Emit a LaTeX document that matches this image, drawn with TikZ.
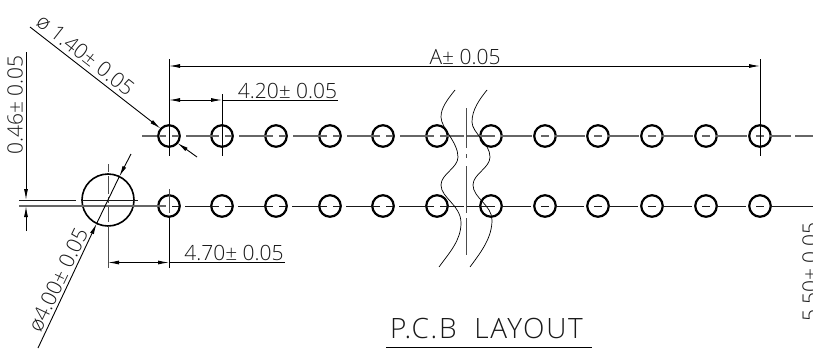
\documentclass[tikz,border=0pt]{standalone}
\usepackage{fontspec}
\setmainfont{Open Sans Light}
\usetikzlibrary{arrows.meta,calc}
\tikzset{
  hole/.style={circle,draw=black,line width=2.2pt,minimum size=21.5pt,inner sep=0pt},
  bighole/.style={circle,draw=black,line width=1.6pt,minimum size=52pt,inner sep=0pt},
  topaxis/.style={draw=black!60,line width=1.2pt},
  botaxis/.style={draw=black!90,line width=1pt},
  dimline/.style={draw=black,line width=0.9pt},
  dimarrow/.style={dimline,-{Latex[length=11pt,width=4pt]}},
  dimboth/.style={dimline,{Latex[length=11pt,width=4pt]}-{Latex[length=11pt,width=4pt]}},
  axisv/.style={draw=black!70,line width=1pt},
  wavy/.style={draw=black,line width=0.7pt},
  dimtext/.style={inner sep=0pt,font=\fontsize{21}{21}\selectfont,text=black!90},
  titletext/.style={inner sep=0pt,font=\fontsize{28}{28}\selectfont\addfontfeature{LetterSpace=6},text=black!90},
}
\begin{document}
\begin{tikzpicture}[x=1pt,y=-1pt]
\useasboundingbox (0,0) rectangle (813,348);
\clip (0,0) rectangle (813,348);
% holes
\foreach \x [count=\i] in {169,222,276,330,383,437,491,545,598,652,706,760}{
  \node[hole] (t\i) at (\x,136) {};
  \node[hole] (b\i) at (\x,206) {};
}
% centre lines, left half: the gap follows a hole
\foreach \i/\j in {1/2,2/3,3/4,4/5,5/6}{
  \draw[topaxis] ([xshift=3pt]t\i.center) -- ([xshift=10pt]t\i.center);
  \draw[topaxis] ([xshift=17pt]t\i.center) -- ([xshift=-3pt]t\j.center);
  \draw[botaxis] ([xshift=3pt]b\i.center) -- ([xshift=10pt]b\i.center);
  \draw[botaxis] ([xshift=16pt]b\i.center) -- ([xshift=-3pt]b\j.center);
}
\draw[topaxis] ([xshift=3pt]t6.center) -- ([xshift=27pt]t6.center);
\draw[topaxis] ([xshift=30pt]t6.center) -- ([xshift=-4pt]t7.center);
\draw[botaxis] ([xshift=3pt]b6.center) -- ([xshift=27pt]b6.center);
\draw[botaxis] ([xshift=30pt]b6.center) -- ([xshift=-4pt]b7.center);
% centre lines, right half: the gap comes before a hole
\foreach \i/\j in {7/8,8/9,9/10,10/11,11/12}{
  \draw[topaxis] ([xshift=-4pt]t\i.center) -- ([xshift=4pt]t\i.center);
  \draw[topaxis] ([xshift=10pt]t\i.center) -- ([xshift=-13pt]t\j.center);
  \draw[botaxis] ([xshift=-4pt]b\i.center) -- ([xshift=4pt]b\i.center);
  \draw[botaxis] ([xshift=10pt]b\i.center) -- ([xshift=-14pt]b\j.center);
}
\draw[topaxis] ([xshift=-4pt]t12.center) -- ([xshift=4pt]t12.center);
\draw[botaxis] ([xshift=-4pt]b12.center) -- ([xshift=4pt]b12.center);
% end stubs
\coordinate (tl) at (142,136);
\coordinate (tr1) at (791,136);
\coordinate (tr2) at (795,136);
\coordinate (trend) at (813,136);
\coordinate (brend) at (813,206);
\coordinate (tl2) at (160,136);
\draw[topaxis] (tl) -- (157,136);
\draw[topaxis] (tl2) -- ([xshift=-3pt]t1.center);
\draw[topaxis] ([xshift=10pt]t12.center) -- (tr1);
\draw[topaxis] (tr2) -- (trend);
\draw[botaxis] ([xshift=10pt]b12.center) -- (brend);
% vertical hole marks
\foreach \i in {1,2,12}{
  \draw[axisv] ([yshift=-17pt]t\i.center) -- ([yshift=-13pt]t\i.center);
  \draw[axisv] ([yshift=-7pt]t\i.center) -- ([yshift=14pt]t\i.center);
}
% large hole
\node[bighole] (big) at (108,200) {};
\coordinate (rowa) at (19,200);
\coordinate (rowb) at (19,206);
\draw[botaxis] (rowa) -- (76,200);
\draw[botaxis] (82,200) -- (big.center);
\draw[botaxis] (big.center) -- (138,200);
\draw[topaxis] (rowb) -- ([xshift=-3pt]b1.center);
\draw[axisv] (108,164) -- (108,172);
\draw[axisv] (108,176) -- (108,194);
\draw[axisv] (108,197) -- (108,203);
\draw[axisv] (108,207) -- (108,222);
\draw[axisv] (108,226) -- (108,268);
% dimension A
\coordinate (Aa) at (169,59);
\coordinate (Ab) at (760,59);
\coordinate (Ac) at (169,66);
\coordinate (Ad) at (760,66);
\draw[dimline] (Aa) -- ([yshift=-20pt]t1.center);
\draw[dimline] (Ab) -- ([yshift=-20pt]t12.center);
\draw[dimboth] (Ac) -- (Ad);
\node[dimtext] (lblA) at (465,56.5) {A± 0.05};
% dimension 4.20
\coordinate (Ba) at (169,100);
\coordinate (Bb) at (222,100);
\coordinate (Bc) at (338,100);
\coordinate (Bd) at (222,94);
\draw[dimboth] (Ba) -- (Bb);
\draw[dimline] (Bb) -- (Bc);
\draw[dimline] (Bd) -- ([yshift=-20pt]t2.center);
\node[dimtext] (lblB) at (287.5,91) {4.20± 0.05};
% dimension 4.70
\coordinate (Ca) at (108,262.5);
\coordinate (Cb) at (169,262.5);
\coordinate (Cc) at (285,262.5);
\coordinate (Cd) at (169,268);
\coordinate (Ce) at (169,189);
\draw[dimboth] (Ca) -- (Cb);
\draw[dimline] (Cb) -- (Cc);
\draw[axisv] (Ce) -- (169,213);
\draw[dimline] (169,216) -- (Cd);
\node[dimtext] (lblC) at (234,253) {4.70± 0.05};
% dimension 0.46
\coordinate (Da) at (26,52);
\coordinate (Db) at (26,200);
\coordinate (Dc) at (26,231);
\coordinate (Dd) at (26,206);
\draw[dimarrow] (Da) -- (Db);
\draw[dimarrow] (Dc) -- (Dd);
\node[dimtext,rotate=90] (lblD) at (15,105) {0.46± 0.05};
% dimension phi 1.40
\coordinate (Ea) at (30,27);
\coordinate (Eb) at (160.5,128.5);
\coordinate (Ec) at (197,157);
\coordinate (Ed) at (177.5,143);
\draw[dimarrow] (Ea) -- (Eb);
\draw[dimarrow] (Ec) -- (Ed);
\node[dimtext,rotate=-38] (lblE) at (85.5,55) {ø 1.40± 0.05};
% dimension phi 4.00
\coordinate (Fa) at (38,348);
\coordinate (Fb) at (96.7,223.4);
\coordinate (Fc) at (131,154);
\coordinate (Fd) at (119.3,176.6);
\draw[dimarrow] (Fa) -- (Fb);
\draw[dimarrow] (Fc) -- (Fd);
\draw[dimline] (Fd) -- (big.center);
\draw[dimline] (big.center) -- (Fb);
\node[dimtext,rotate=64.4] (lblF) at (58,280) {ø4.00± 0.05};
% dimension 5.50 (cut by the edge)
\node[dimtext,rotate=90] (lblG) at (810,272) {5.50± 0.05};
% break lines
\draw[axisv] (466,108) -- (466,148);
\draw[axisv] (466,154) -- (466,158);
\draw[axisv] (466,166) -- (466,213);
\draw[axisv] (466,218) -- (466,255);
\draw[wavy] (455,90) .. controls (447,100) and (441,108) .. (441,117)
  .. controls (441,128) and (458,142) .. (458,157)
  .. controls (458,168) and (441,174) .. (441,185)
  .. controls (441,198) and (461,205) .. (461,223)
  .. controls (461,240) and (450,252) .. (439,267);
\draw[wavy] (487,90) .. controls (479,100) and (472,110) .. (472,122)
  .. controls (472,133) and (490,143) .. (490,157)
  .. controls (490,168) and (473,174) .. (473,185)
  .. controls (473,198) and (492,205) .. (492,220)
  .. controls (492,238) and (481,252) .. (470,267);
% title
\node[titletext] (title) at (486.5,328) {P.C.B\ \ LAYOUT};
\coordinate (Ua) at (386,347);
\coordinate (Ub) at (592,347);
\draw[dimline] (Ua) -- (Ub);
\end{tikzpicture}
\end{document}
